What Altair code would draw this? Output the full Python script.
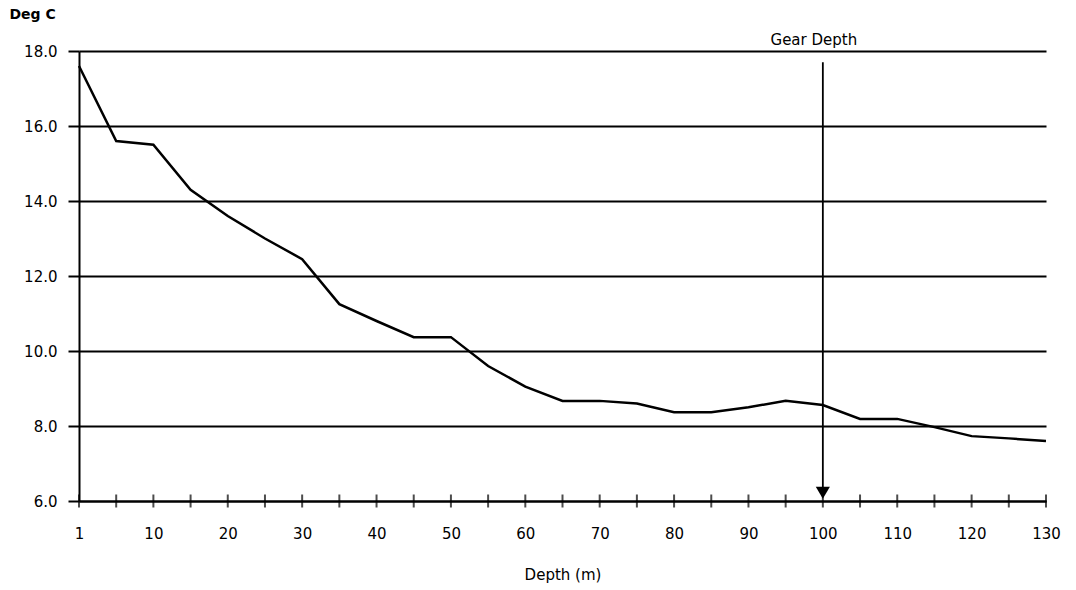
import altair as alt
import pandas as pd

# Depth categories (m) and temperature (Deg C)
depths = [1, 5, 10, 15, 20, 25, 30, 35, 40, 45, 50, 55, 60, 65, 70, 75, 80, 85, 90, 95, 100, 105, 110, 115, 120, 125, 130]
temps = [17.6, 15.6, 15.5, 14.3, 13.6, 13.0, 12.45, 11.25, 10.8, 10.37, 10.37, 9.6, 9.05, 8.67, 8.67, 8.6, 8.37, 8.37, 8.5, 8.67, 8.56, 8.19, 8.19, 7.97, 7.73, 7.67, 7.6]
y_ticks = [6, 8, 10, 12, 14, 16, 18]

gear_depth = [100]
gear_label = ["Gear Depth"]
arrow_top = [17.7]
arrow_bottom = [6.35]
arrow_head = [6.22]
label_y = [18.3]
axis_base = 6.0

FONT = "DejaVu Sans"

df = pd.DataFrame({"depth": depths, "temp": temps})
ticks_df = pd.DataFrame({"depth": depths, "base": [axis_base] * len(depths)})
gear_df = pd.DataFrame({"depth": gear_depth, "top": arrow_top, "bottom": arrow_bottom,
                        "head": arrow_head, "ly": label_y, "label": gear_label})

xscale = alt.Scale(type="point", domain=depths, padding=0)
yscale = alt.Scale(domain=[6, 18], nice=False, zero=False)

x_axis = alt.Axis(
    title="Depth  (m)", labelAngle=0, ticks=False, grid=False,
    labelExpr="datum.value == 1 || datum.value % 10 == 0 ? datum.label : ''",
    domainColor="black", domainWidth=2, labelFont=FONT, labelFontSize=15,
    labelColor="black", labelPadding=25, titleFont=FONT, titleFontSize=15,
    titleFontWeight="normal", titleColor="black", titlePadding=26,
)
y_axis = alt.Axis(
    values=y_ticks, format=".1f", grid=True, gridColor="black", gridWidth=2,
    gridOpacity=1, tickSize=11, tickWidth=2, tickColor="black",
    domainColor="black", domainWidth=2, labelFont=FONT, labelFontSize=15,
    labelColor="black", labelPadding=11,
    title="Deg C", titleAngle=0, titleAlign="left", titleBaseline="middle",
    titleX=-70, titleY=-37, titleFont=FONT, titleFontSize=14,
    titleFontWeight="bold", titleColor="black",
)

line = alt.Chart(df).mark_line(color="black", strokeWidth=2.5).encode(
    x=alt.X("depth:O", scale=xscale, sort=None, axis=x_axis),
    y=alt.Y("temp:Q", scale=yscale, axis=y_axis),
)

ticks = alt.Chart(ticks_df).mark_tick(orient="vertical", size=13, thickness=2, color="black").encode(
    x=alt.X("depth:O", scale=xscale, sort=None),
    y=alt.Y("base:Q", scale=yscale),
)

arrow = alt.Chart(gear_df).mark_rule(color="black", strokeWidth=1.8).encode(
    x=alt.X("depth:O", scale=xscale, sort=None),
    y=alt.Y("top:Q", scale=yscale),
    y2="bottom:Q",
)

head = alt.Chart(gear_df).mark_point(shape="triangle-down", filled=True, color="black",
                                     size=200, opacity=1).encode(
    x=alt.X("depth:O", scale=xscale, sort=None),
    y=alt.Y("head:Q", scale=yscale),
)

label = alt.Chart(gear_df).mark_text(font=FONT, fontSize=15, color="black", dx=-9).encode(
    x=alt.X("depth:O", scale=xscale, sort=None),
    y=alt.Y("ly:Q", scale=yscale),
    text="label:N",
)

chart = alt.layer(line, ticks, arrow, head, label).properties(
    width=967, height=450,
    autosize=alt.AutoSizeParams(type="none"),
    padding={"left": 79, "top": 51, "right": 30, "bottom": 89},
    background="white",
).configure_view(stroke=None)

chart.save("out.html", embed_options={"renderer": "svg", "actions": False})
